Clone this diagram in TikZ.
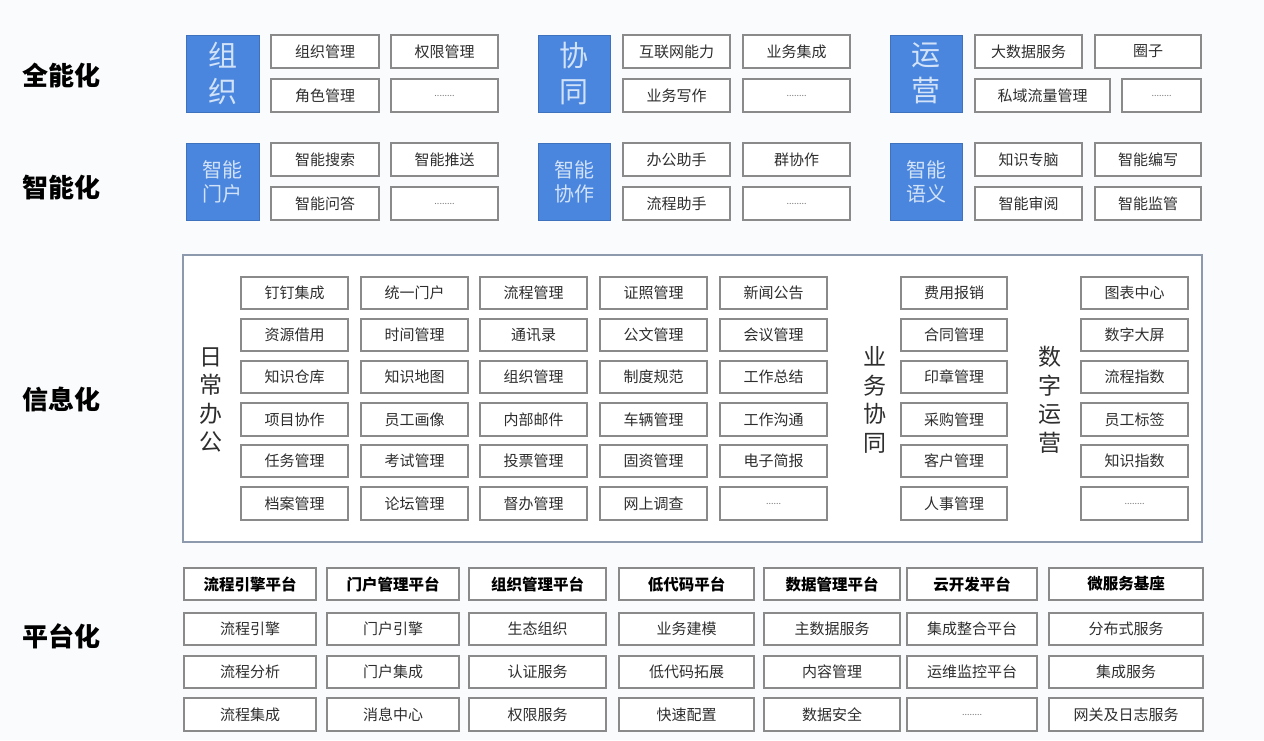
\documentclass[tikz,border=0pt]{standalone}
\usepackage{fontspec}
\setmainfont{Noto Sans CJK SC}
\definecolor{boxgray}{HTML}{8A8A8A}
\definecolor{txt}{HTML}{2E2E2E}
\definecolor{blu}{HTML}{4A86DE}
\definecolor{bluetxt}{HTML}{D2E2F8}
\definecolor{outer}{HTML}{8D9AAE}
\definecolor{dotgray}{HTML}{777777}
\definecolor{bg}{HTML}{FAFBFC}
\tikzset{
  cell/.style={draw=boxgray, line width=1.4pt, fill=white, text=txt,
    font=\fontsize{15}{15}\selectfont, inner sep=0pt},
  hcell/.style={cell, font=\bfseries\fontsize{15.5}{15.5}\selectfont, text=black},
  bluebox/.style={fill=blu, draw=blu!85!black, line width=0.8pt, text=bluetxt,
    align=center, inner sep=0pt},
  bigblue/.style={bluebox, font=\fontsize{29}{36}\selectfont},
  smallblue/.style={bluebox, font=\fontsize{20}{24}\selectfont},
  rowlabel/.style={font=\bfseries\fontsize{26}{26}\selectfont, text=black},
  vlabel/.style={font=\fontsize{23}{28.5}\selectfont, align=center, text=txt},
}
\newcommand\bx[7][cell]{\node[#1, minimum width={(#4-#3)*1pt}, minimum height={(#6-#5)*1pt}] (#2) at ({(#3+#4)/2},{(#5+#6)/2}) {#7};}
\newcommand\dts{\textcolor{dotgray}{\fontsize{9}{9}\selectfont ........}}
\begin{document}
\begin{tikzpicture}[x=1pt,y=-1pt]
\fill[bg] (0,0) rectangle (1264,740);
\useasboundingbox (0,0) rectangle (1264,740);

% row labels
\node[rowlabel] (l1) at (62,75) {全能化};
\node[rowlabel] (l2) at (62,187) {智能化};
\node[rowlabel] (l3) at (62,400) {信息化};
\node[rowlabel] (l4) at (62,636) {平台化};

% ---------- row 1 ----------
\bx[bigblue]{b11}{186}{259}{35}{112}{组\\织}
\bx{a11}{271}{379}{35}{68}{组织管理}
\bx{a12}{391}{498}{35}{68}{权限管理}
\bx{a13}{271}{379}{79}{112}{角色管理}
\bx{a14}{391}{498}{79}{112}{\dts}
\bx[bigblue]{b12}{538}{610}{35}{112}{协\\同}
\bx{a21}{623}{730}{35}{68}{互联网能力}
\bx{a22}{743}{850}{35}{68}{业务集成}
\bx{a23}{623}{730}{79}{112}{业务写作}
\bx{a24}{743}{850}{79}{112}{\dts}
\bx[bigblue]{b13}{890}{962}{35}{112}{运\\营}
\bx{a31}{975}{1082}{35}{68}{大数据服务}
\bx{a32}{1095}{1201}{35}{68}{圈子}
\bx{a33}{975}{1110}{79}{112}{私域流量管理}
\bx{a34}{1122}{1201}{79}{112}{\dts}

% ---------- row 2 ----------
\bx[smallblue]{b21}{186}{259}{143}{220}{智能\\门户}
\bx{c11}{271}{379}{143}{176}{智能搜索}
\bx{c12}{391}{498}{143}{176}{智能推送}
\bx{c13}{271}{379}{187}{220}{智能问答}
\bx{c14}{391}{498}{187}{220}{\dts}
\bx[smallblue]{b22}{538}{610}{143}{220}{智能\\协作}
\bx{c21}{623}{730}{143}{176}{办公助手}
\bx{c22}{743}{850}{143}{176}{群协作}
\bx{c23}{623}{730}{187}{220}{流程助手}
\bx{c24}{743}{850}{187}{220}{\dts}
\bx[smallblue]{b23}{890}{962}{143}{220}{智能\\语义}
\bx{c31}{975}{1082}{143}{176}{知识专脑}
\bx{c32}{1095}{1201}{143}{176}{智能编写}
\bx{c33}{975}{1082}{187}{220}{智能审阅}
\bx{c34}{1095}{1201}{187}{220}{智能监管}

% ---------- row 3 ----------
\node[draw=outer, line width=1.4pt, fill=white, inner sep=0pt,
  minimum width=1019pt, minimum height=287pt] (frame) at (692.5,398.5) {};
\node[vlabel] (v1) at (211,400) {日\\常\\办\\公};
\node[vlabel] (v2) at (875,400) {业\\务\\协\\同};
\node[vlabel] (v3) at (1050,400) {数\\字\\运\\营};

\bx{d11}{241}{348}{277}{309}{钉钉集成}
\bx{d12}{361}{468}{277}{309}{统一门户}
\bx{d13}{480}{587}{277}{309}{流程管理}
\bx{d14}{600}{707}{277}{309}{证照管理}
\bx{d15}{720}{827}{277}{309}{新闻公告}
\bx{d21}{241}{348}{319}{351}{资源借用}
\bx{d22}{361}{468}{319}{351}{时间管理}
\bx{d23}{480}{587}{319}{351}{通讯录}
\bx{d24}{600}{707}{319}{351}{公文管理}
\bx{d25}{720}{827}{319}{351}{会议管理}
\bx{d31}{241}{348}{361}{393}{知识仓库}
\bx{d32}{361}{468}{361}{393}{知识地图}
\bx{d33}{480}{587}{361}{393}{组织管理}
\bx{d34}{600}{707}{361}{393}{制度规范}
\bx{d35}{720}{827}{361}{393}{工作总结}
\bx{d41}{241}{348}{403}{436}{项目协作}
\bx{d42}{361}{468}{403}{436}{员工画像}
\bx{d43}{480}{587}{403}{436}{内部邮件}
\bx{d44}{600}{707}{403}{436}{车辆管理}
\bx{d45}{720}{827}{403}{436}{工作沟通}
\bx{d51}{241}{348}{445}{477}{任务管理}
\bx{d52}{361}{468}{445}{477}{考试管理}
\bx{d53}{480}{587}{445}{477}{投票管理}
\bx{d54}{600}{707}{445}{477}{固资管理}
\bx{d55}{720}{827}{445}{477}{电子简报}
\bx{d61}{241}{348}{487}{520}{档案管理}
\bx{d62}{361}{468}{487}{520}{论坛管理}
\bx{d63}{480}{587}{487}{520}{督办管理}
\bx{d64}{600}{707}{487}{520}{网上调查}
\bx{d65}{720}{827}{487}{520}{\textcolor{dotgray}{\fontsize{9}{9}\selectfont ......}}

\bx{e1}{901}{1007}{277}{309}{费用报销}
\bx{e2}{901}{1007}{319}{351}{合同管理}
\bx{e3}{901}{1007}{361}{393}{印章管理}
\bx{e4}{901}{1007}{403}{436}{采购管理}
\bx{e5}{901}{1007}{445}{477}{客户管理}
\bx{e6}{901}{1007}{487}{520}{人事管理}

\bx{f1}{1081}{1188}{277}{309}{图表中心}
\bx{f2}{1081}{1188}{319}{351}{数字大屏}
\bx{f3}{1081}{1188}{361}{393}{流程指数}
\bx{f4}{1081}{1188}{403}{436}{员工标签}
\bx{f5}{1081}{1188}{445}{477}{知识指数}
\bx{f6}{1081}{1188}{487}{520}{\dts}

% ---------- row 4 ----------
\bx[hcell]{g11}{184}{316}{568}{600}{流程引擎平台}
\bx[hcell]{g12}{327}{459}{568}{600}{门户管理平台}
\bx[hcell]{g13}{469}{606}{568}{600}{组织管理平台}
\bx[hcell]{g14}{619}{754}{568}{600}{低代码平台}
\bx[hcell]{g15}{764}{900}{568}{600}{数据管理平台}
\bx[hcell]{g16}{907}{1037}{568}{600}{云开发平台}
\bx[hcell]{g17}{1049}{1203}{568}{600}{微服务基座}

\bx{g21}{184}{316}{613}{645}{流程引擎}
\bx{g22}{327}{459}{613}{645}{门户引擎}
\bx{g23}{469}{606}{613}{645}{生态组织}
\bx{g24}{619}{754}{613}{645}{业务建模}
\bx{g25}{764}{900}{613}{645}{主数据服务}
\bx{g26}{907}{1037}{613}{645}{集成整合平台}
\bx{g27}{1049}{1203}{613}{645}{分布式服务}

\bx{g31}{184}{316}{656}{688}{流程分析}
\bx{g32}{327}{459}{656}{688}{门户集成}
\bx{g33}{469}{606}{656}{688}{认证服务}
\bx{g34}{619}{754}{656}{688}{低代码拓展}
\bx{g35}{764}{900}{656}{688}{内容管理}
\bx{g36}{907}{1037}{656}{688}{运维监控平台}
\bx{g37}{1049}{1203}{656}{688}{集成服务}

\bx{g41}{184}{316}{698}{731}{流程集成}
\bx{g42}{327}{459}{698}{731}{消息中心}
\bx{g43}{469}{606}{698}{731}{权限服务}
\bx{g44}{619}{754}{698}{731}{快速配置}
\bx{g45}{764}{900}{698}{731}{数据安全}
\bx{g46}{907}{1037}{698}{731}{\dts}
\bx{g47}{1049}{1203}{698}{731}{网关及日志服务}
\end{tikzpicture}
\end{document}
